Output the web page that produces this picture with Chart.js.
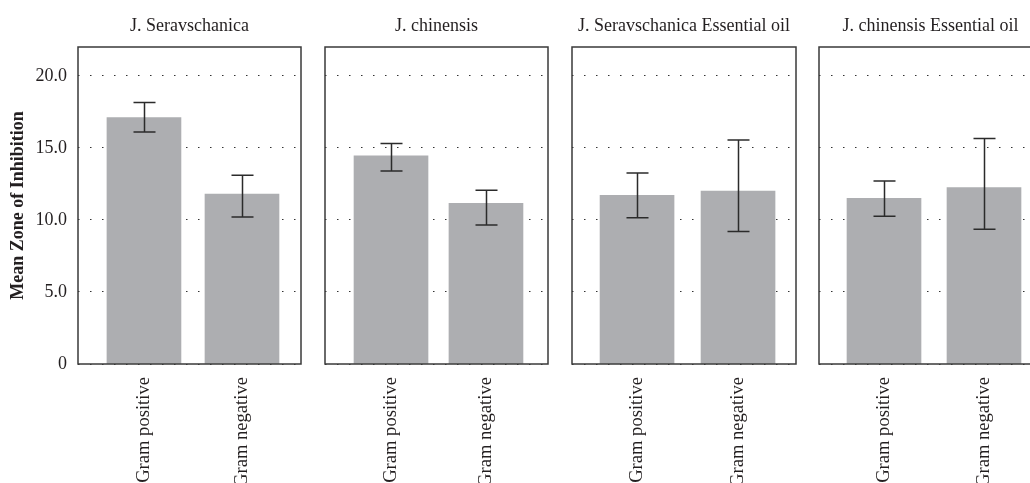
<!DOCTYPE html>
<html><head><meta charset="utf-8">
<script src="https://cdn.jsdelivr.net/npm/chart.js@4.4.0/dist/chart.umd.min.js"></script>
<style>
html,body{margin:0;padding:0;width:1030px;height:483px;overflow:hidden;background:#fff;}
.p{position:absolute;top:0;}
canvas{display:block;}
</style></head><body>
<div class="p" style="left:0px"><canvas id="c0" width="311" height="520"></canvas></div>
<div class="p" style="left:315px"><canvas id="c1" width="243" height="520"></canvas></div>
<div class="p" style="left:562px"><canvas id="c2" width="244" height="520"></canvas></div>
<div class="p" style="left:809px"><canvas id="c3" width="243" height="520"></canvas></div>
<script>
// ---- data ----
const panelTitles = ['J. Seravschanica', 'J. chinensis', 'J. Seravschanica Essential oil', 'J. chinensis Essential oil'];
const categories = ['Gram positive', 'Gram negative'];
const gramPositiveMean = [17.1, 14.45, 11.7, 11.5];
const gramNegativeMean = [11.8, 11.15, 12.0, 12.25];
const gramPositiveErrLow = [16.1, 13.4, 10.15, 10.25];
const gramPositiveErrHigh = [18.15, 15.3, 13.25, 12.7];
const gramNegativeErrLow = [10.2, 9.65, 9.2, 9.35];
const gramNegativeErrHigh = [13.1, 12.05, 15.55, 15.65];
const yTicks = [0, 5, 10, 15, 20];
const yTitle = 'Mean Zone of Inhibition';

// ---- layout (per panel) ----
const panelLayout = [
  {id: 'c0', yWidth: 78, xMin: -0.673, xMax: 1.602},
  {id: 'c1', yWidth: 10, xMin: -0.695, xMax: 1.653},
  {id: 'c2', yWidth: 10, xMin: -0.644, xMax: 1.574},
  {id: 'c3', yWidth: 10, xMin: -0.65, xMax: 1.58}
];

Chart.defaults.font.family = "'Liberation Serif', 'Times New Roman', serif";
Chart.defaults.font.size = 18;
Chart.defaults.color = '#231f20';

const errorBarPlugin = {
  id: 'errorBars',
  afterDatasetsDraw(chart, args, opts) {
    const ctx = chart.ctx;
    const meta = chart.getDatasetMeta(0);
    const ys = chart.scales.y;
    ctx.save();
    ctx.strokeStyle = '#2b2b2b';
    ctx.lineWidth = 1.5;
    meta.data.forEach((el, i) => {
      const x = Math.round(el.x) + 0.5;
      const yl = ys.getPixelForValue(opts.low[i]);
      const yh = ys.getPixelForValue(opts.high[i]);
      ctx.beginPath();
      ctx.moveTo(x, yl); ctx.lineTo(x, yh);
      ctx.moveTo(x - 11, yl); ctx.lineTo(x + 11, yl);
      ctx.moveTo(x - 11, yh); ctx.lineTo(x + 11, yh);
      ctx.stroke();
    });
    ctx.restore();
  }
};
const framePlugin = {
  id: 'frame',
  afterDraw(chart) {
    const {ctx, chartArea: a} = chart;
    ctx.save();
    ctx.strokeStyle = '#3a3a3a';
    ctx.lineWidth = 1.5;
    ctx.strokeRect(a.left, a.top, a.right - a.left, a.bottom - a.top);
    ctx.restore();
  }
};

panelLayout.forEach((pl, p) => {
  const values = [gramPositiveMean[p], gramNegativeMean[p]];
  const first = p === 0;
  new Chart(document.getElementById(pl.id), {
    type: 'bar',
    data: {
      datasets: [{
        data: values.map((v, i) => ({x: i, y: v})),
        backgroundColor: '#adaeb1',
        borderWidth: 0,
        barThickness: 74
      }]
    },
    plugins: [errorBarPlugin, framePlugin],
    options: {
      responsive: false,
      animation: false,
      layout: {padding: {left: 0, right: 10, top: 0, bottom: 0}},
      plugins: {
        legend: {display: false},
        tooltip: {enabled: false},
        title: {
          display: true,
          text: panelTitles[p],
          fullSize: false,
          font: {size: 18, weight: 'normal'},
          padding: {top: 15, bottom: 10.4}
        },
        errorBars: {
          low: [gramPositiveErrLow[p], gramNegativeErrLow[p]],
          high: [gramPositiveErrHigh[p], gramNegativeErrHigh[p]]
        }
      },
      scales: {
        x: {
          type: 'linear',
          offset: false,
          bounds: 'data',
          min: pl.xMin,
          max: pl.xMax,
          afterBuildTicks: s => { s.ticks = categories.map((c, i) => ({value: i})); },
          afterFit: s => { s.height = 156; },
          grid: {display: false, drawTicks: false, offset: false},
          border: {display: false},
          ticks: {
            autoSkip: false,
            minRotation: 90,
            maxRotation: 90,
            padding: 13,
            font: {size: 18.6},
            callback: v => categories[v] !== undefined ? categories[v] : ''
          }
        },
        y: {
          type: 'linear',
          min: 0,
          max: 22,
          afterBuildTicks: s => { s.ticks = yTicks.map(v => ({value: v})); },
          afterFit: s => { s.width = pl.yWidth; },
          grid: {color: '#333', lineWidth: 1, drawTicks: false},
          border: {display: false, dash: [1.5, 10.5]},
          ticks: {
            display: first,
            padding: 11,
            callback: v => v === 0 ? '0' : v.toFixed(1)
          },
          title: {
            display: first,
            text: yTitle,
            font: {size: 18, weight: 'bold'},
            padding: {top: 8, bottom: 0}
          }
        }
      }
    }
  });
});
</script>
</body></html>
